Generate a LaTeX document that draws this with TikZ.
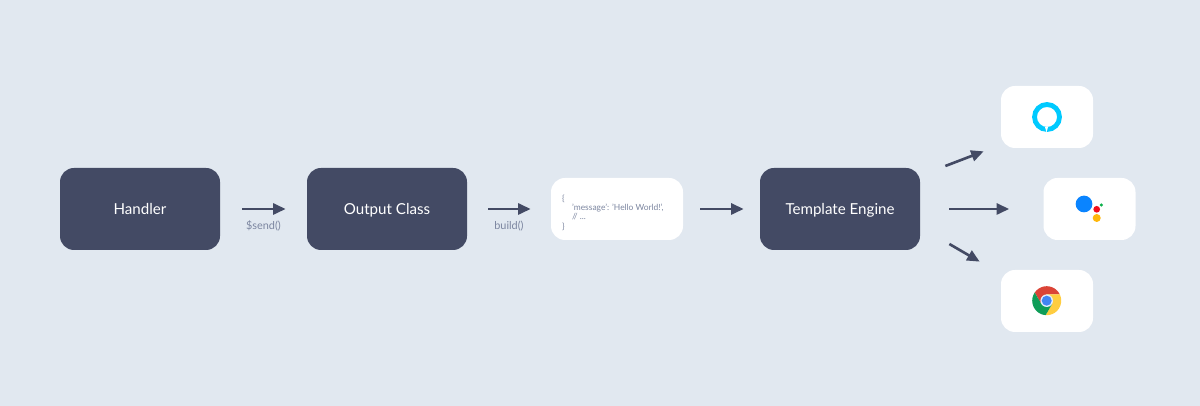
\documentclass[tikz,border=0pt]{standalone}
\usepackage{fontspec}
\setmainfont{Lato}
\usetikzlibrary{arrows.meta}
\definecolor{bgblue}{HTML}{E1E8F0}
\definecolor{boxdark}{HTML}{434A64}
\definecolor{lblgray}{HTML}{7C86A0}
\definecolor{alexablue}{HTML}{00CAFF}
\definecolor{asstblue}{HTML}{0A84FF}
\definecolor{asstred}{HTML}{F20D1C}
\definecolor{asstyellow}{HTML}{FFB70A}
\definecolor{asstgreen}{HTML}{0DB14B}
\definecolor{chromered}{HTML}{DB4437}
\definecolor{chromeyellow}{HTML}{FFCD40}
\definecolor{chromegreen}{HTML}{0F9D58}
\definecolor{chromeblue}{HTML}{4285F4}

\begin{document}
\begin{tikzpicture}[
		>={Stealth[inset=0pt,length=0.25cm,width=0.22cm]},
		stage/.style={rectangle, rounded corners=0.28cm, fill=boxdark, text=white, minimum width=3.2cm, minimum height=1.64cm, text height=6.2pt, text depth=0pt, font=\fontsize{8.6}{10}\selectfont},
		card/.style={rectangle, rounded corners=0.28cm, fill=white, minimum width=1.84cm, minimum height=1.24cm},
		codetext/.style={inner sep=0pt, align=left, text=lblgray, font=\fontsize{4.8}{5.3}\selectfont},
		lbl/.style={text=lblgray, font=\fontsize{6.2}{8}\selectfont},
		dot/.style={circle, inner sep=0pt},
		arr/.style={->, draw=boxdark, line width=1.5pt}
	]

	\path[fill=bgblue, use as bounding box] (0,0) rectangle (24,8.12);

	% Stages
	\node[stage] (handler) at (2.8, 3.94) {Handler};
	\node[stage] (output) at (7.74, 3.94) {Output Class};
	\node[card, minimum width=2.64cm] (json) at (12.34, 3.94) {};
	\node[codetext, anchor=west] (json_txt) at ([xshift=0.22cm,yshift=-0.07cm]json.west) {\{\\\hspace*{0.2cm}'message': 'Hello World!',\\\hspace*{0.2cm}// ...\\\}};
	\node[stage] (engine) at (16.8, 3.94) {Template Engine};

	% Targets
	\node[card] (alexa) at (20.94, 5.78) {};
	\node[card] (assistant) at (21.79, 3.94) {};
	\node[card] (chrome) at (20.94, 2.1) {};

	% Arrows
	\draw[arr] ([xshift=0.44cm]handler.east) -- ([xshift=-0.42cm]output.west);
	\draw[arr] ([xshift=0.42cm]output.east) -- ([xshift=-0.4cm]json.west);
	\draw[arr] ([xshift=0.34cm]json.east) -- ([xshift=-0.32cm]engine.west);
	\draw[arr] ([xshift=0.5cm,yshift=0.86cm]engine.east) -- ([xshift=-0.34cm,yshift=-0.06cm]alexa.south west);
	\draw[arr] ([xshift=0.58cm]engine.east) -- ([xshift=-0.68cm]assistant.west);
	\draw[arr] ([xshift=0.58cm,yshift=-0.7cm]engine.east) -- ([xshift=-0.42cm,yshift=0.16cm]chrome.north west);
	\node[lbl] (send_lbl) at (5.27, 3.6) {\$send()};
	\node[lbl] (build_lbl) at (10.18, 3.6) {build()};

	% Alexa
	\node[dot, draw=alexablue, line width=2.75pt, minimum size=0.5cm] (alexa_ring) at (20.94, 5.78) {};
	\fill[white] (20.9, 5.58) -- (20.96, 5.58) -- (20.93, 5.47) -- cycle;

	% Assistant
	\node[dot, fill=asstblue, minimum size=0.334cm] (asst_b) at (21.68, 4.04) {};
	\node[dot, fill=asstred, minimum size=0.134cm] (asst_r) at (21.934, 3.934) {};
	\node[dot, fill=asstyellow, minimum size=0.16cm] (asst_y) at (21.934, 3.76) {};
	\node[dot, fill=asstgreen, minimum size=0.068cm] (asst_g) at (22.026, 4.02) {};

	% Chrome
	\begin{scope}[shift={(20.934, 2.106)}, x=0.02cm, y=0.02cm]
		\begin{scope}
			\clip (0,0) circle (14.5);
			\foreach \ang/\col in {0/chromered, -120/chromeyellow, 120/chromegreen}
				\fill[\col, rotate=\ang] (0,0) -- (0,6.3) -- (30,6.3) -- (30,30) -- (-20.45,22.83) -- (-5.45,-3.15) -- cycle;
		\end{scope}
		\fill[white!85!chromeblue] (0,0) circle (6.3);
		\fill[chromeblue] (0,0) circle (5);
	\end{scope}

\end{tikzpicture}
\end{document}
